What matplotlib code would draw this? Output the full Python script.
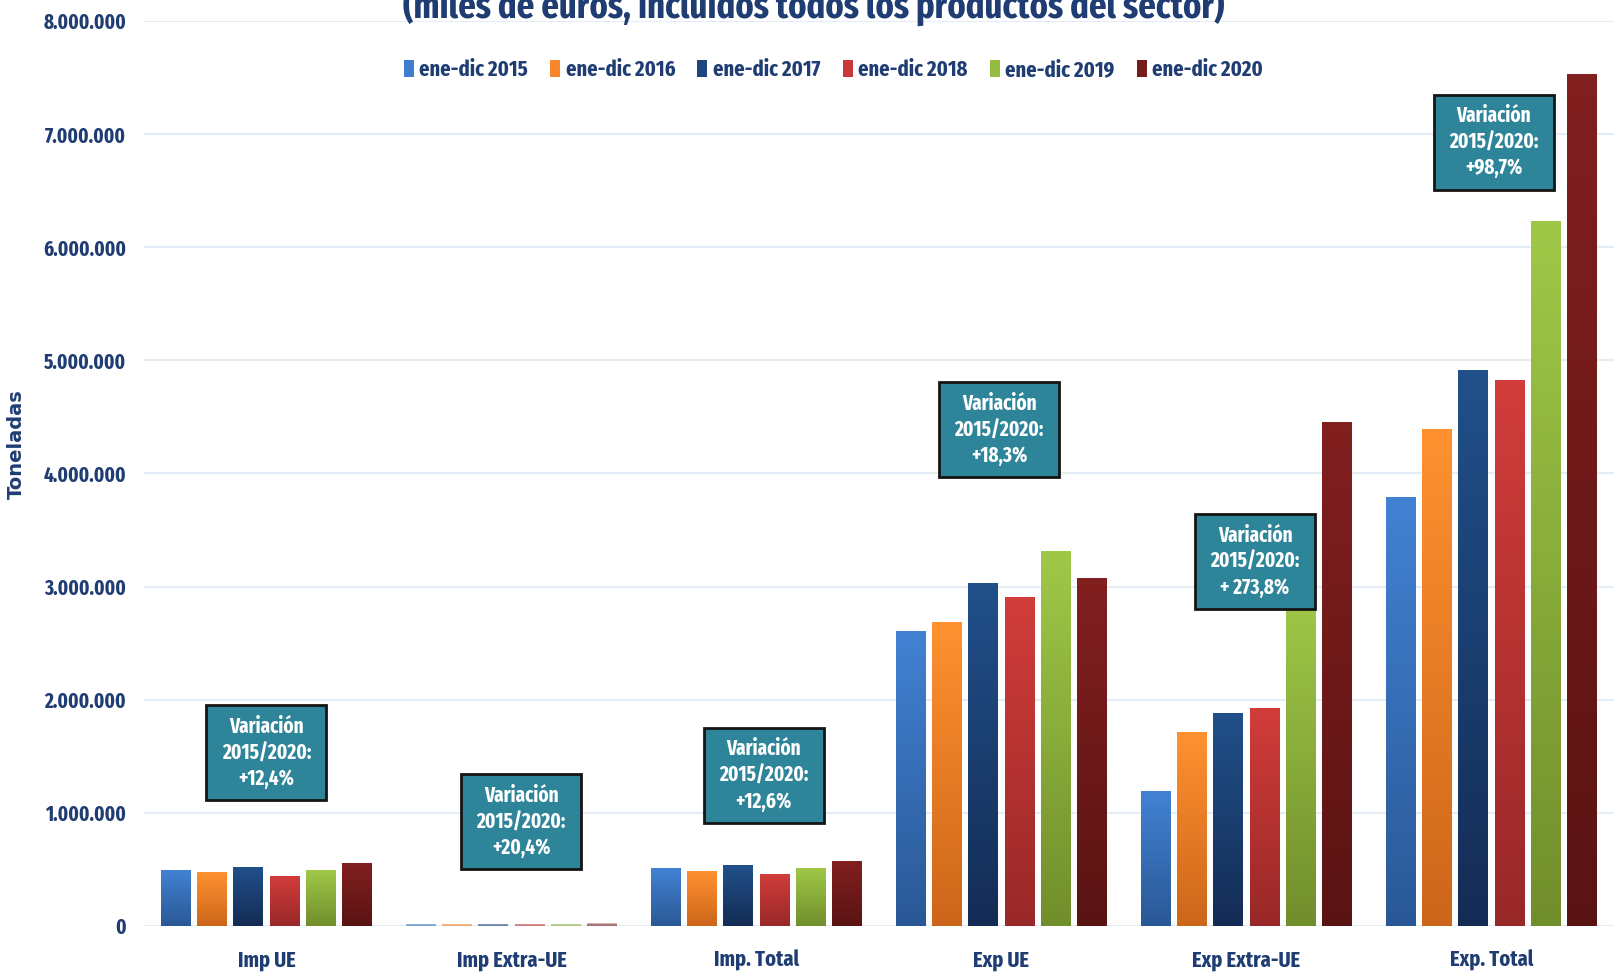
import matplotlib.pyplot as plt
import numpy as np
from matplotlib.colors import LinearSegmentedColormap
from matplotlib.patches import Rectangle
from matplotlib.ticker import FuncFormatter

categories = ['Imp UE', 'Imp Extra-UE', 'Imp. Total', 'Exp UE', 'Exp Extra-UE', 'Exp. Total']
series = ['ene-dic 2015', 'ene-dic 2016', 'ene-dic 2017', 'ene-dic 2018', 'ene-dic 2019', 'ene-dic 2020']

v2015 = [490000, 15000, 505000, 2600000, 1190000, 3790000]
v2016 = [470000, 15500, 485500, 2680000, 1710000, 4390000]
v2017 = [520000, 16000, 536000, 3030000, 1880000, 4910000]
v2018 = [440000, 16500, 456500, 2900000, 1920000, 4820000]
v2019 = [490000, 17000, 507000, 3310000, 2920000, 6230000]
v2020 = [551000, 18060, 569000, 3076000, 4450000, 7526000]
values = [v2015, v2016, v2017, v2018, v2019, v2020]

variation = ['+12,4%', '+20,4%', '+12,6%', '+18,3%', '+ 273,8%', '+98,7%']
box_x = [0.0, 0.04, 0.03, -0.01, 0.035, 0.01]
box_y = [1530000, 920000, 1330000, 4385000, 3220000, 6930000]

# top / bottom colours of each series gradient
tops = ['#4282D3', '#FF9130', '#21508A', '#D13D3B', '#A0C848', '#821F1F']
bottoms = ['#2A5896', '#CC661A', '#142C55', '#992828', '#718E2C', '#5A1313']
legend_cols = ['#3F7ECF', '#F7872A', '#1F477F', '#C83937', '#93BD40', '#761C1C']

navy = '#1F3D73'
narrow = ['Fira Sans Extra Condensed', 'PT Sans Narrow', 'Archivo Narrow', 'DejaVu Sans']
plt.rcParams['font.family'] = narrow
plt.rcParams['font.weight'] = 'bold'

fig = plt.figure(figsize=(16.14, 9.8), dpi=100)
ax = fig.add_axes([0.0892, 0.0551, 0.9108, 0.9235])

x = np.arange(len(categories))
step = 0.148
width = 0.122
for s in range(len(series)):
    xs = x + (s - 2.5) * step
    bars = ax.bar(xs, values[s], width=width, color=legend_cols[s], label=series[s], zorder=2)
    cmap = LinearSegmentedColormap.from_list('g%d' % s, [bottoms[s], tops[s]])
    grad = np.linspace(0, 1, 256).reshape(-1, 1)
    for b in bars:
        x0 = b.get_x()
        h = b.get_height()
        im = ax.imshow(grad, extent=[x0, x0 + width, 0, h], origin='lower',
                       cmap=cmap, aspect='auto', zorder=2.1)
        # the Imp Extra-UE bars look faded in the original
        if h < 50000:
            b.set_alpha(0.35)
            im.set_alpha(0.35)

ax.set_xlim(-0.5, len(categories) - 0.5)
ax.set_ylim(0, 8000000)
ax.set_yticks(np.arange(0, 8000001, 1000000))
ax.yaxis.set_major_formatter(FuncFormatter(lambda v, p: '{:,.0f}'.format(v).replace(',', '.')))
ax.set_xticks(x)
ax.set_xticklabels(categories)
ax.tick_params(axis='both', length=0, colors=navy)
ax.tick_params(axis='y', labelsize=15, pad=13)
ax.tick_params(axis='x', labelsize=16, pad=17)
ax.grid(axis='y', color='#E4ECF6', linewidth=1.5, zorder=0)
for sp in ax.spines.values():
    sp.set_visible(False)
ax.axhline(0, color='#D6E2F2', linewidth=2, zorder=1)

ax.set_ylabel('Toneladas', fontsize=14, color=navy, family='DejaVu Sans', fontweight='bold')
ax.yaxis.set_label_coords(-0.0805, 0.532)

# variation boxes
bw = 0.49
bh = 840000
for i in range(len(categories)):
    cx = x[i] + box_x[i]
    cy = box_y[i]
    ax.add_patch(Rectangle((cx - bw / 2, cy - bh / 2), bw, bh, facecolor='#2E8599',
                           edgecolor='#151515', linewidth=2, zorder=5))
    ax.text(cx, cy, 'Variación\n2015/2020:\n' + variation[i], ha='center', va='center',
            color='white', fontsize=15, linespacing=1.3, zorder=6)

leg = ax.legend(loc='center', bbox_to_anchor=(0.469, 0.9458), ncol=6, frameon=False,
                fontsize=16, handlelength=0.45, handleheight=0.8, handletextpad=0.25,
                columnspacing=1.0)
for t in leg.get_texts():
    t.set_color(navy)

fig.text(0.504, 0.993, '(miles de euros, incluidos todos los productos del sector)',
         ha='center', va='center', fontsize=27, color=navy)

fig.savefig('out.png', dpi=100)
